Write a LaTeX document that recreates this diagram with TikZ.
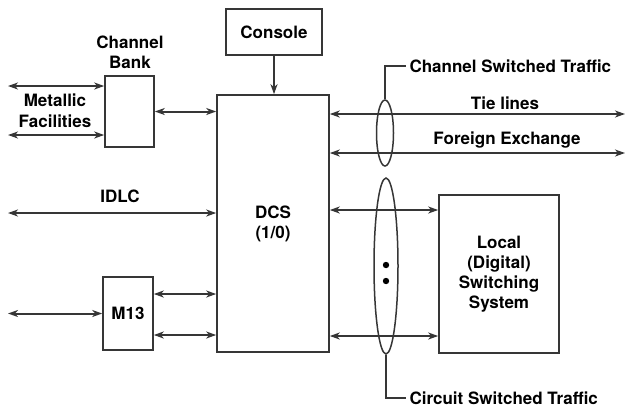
\documentclass[tikz,border=0pt]{standalone}
\usepackage{fontspec}
\setmainfont{TeX Gyre Heros}
\usetikzlibrary{positioning,arrows.meta,shapes.geometric}
\definecolor{linegray}{HTML}{363636}

\begin{document}
\begin{tikzpicture}[x=1pt,y=-1pt,>={Stealth[length=10pt,width=7pt,inset=3pt]},
  box/.style={draw=linegray,line width=1.6pt,inner sep=0pt,font=\bfseries\fontsize{17}{20}\selectfont,align=center},
  link/.style={<->,draw=linegray,line width=2pt},
  lbl/.style={font=\bfseries\fontsize{17}{20}\selectfont,align=center},
  bundle/.style={ellipse,draw=linegray,line width=1.5pt,inner sep=0pt}]
\useasboundingbox (0,0) rectangle (626,410);
% blocks
\node[box,minimum width=112pt,minimum height=257pt] (dcs) at (273,223.5) {DCS\\(1/0)};
\node[box,minimum width=96pt,minimum height=46pt] (con) at (274,32) {Console};
\node[box,minimum width=49pt,minimum height=71pt] (cb) at (129.5,111.5) {};
\node[box,minimum width=50pt,minimum height=73pt] (m13) at (128,313.5) {M13};
\node[box,minimum width=120pt,minimum height=158pt] (loc) at (499,274) {Local\\(Digital)\\Switching\\System};
% labels
\node[lbl] (cblabel) at (130,52) {Channel\\Bank};
\node[lbl] (mflabel) at (55,111) {Metallic\\[1pt]Facilities};
\node[lbl] (idlc) at (120,196) {IDLC};
\node[lbl] (tie) at (505,103) {Tie lines};
\node[lbl] (fx) at (507,140) {Foreign Exchange};
\node[lbl,anchor=west] (cstlabel) at (406,66) {Channel Switched Traffic};
\node[lbl,anchor=west] (cctlabel) at (406,398) {Circuit Switched Traffic};
% free ends
\coordinate (mf1) at (8,86);
\coordinate (mf2) at (8,135);
\coordinate (idl) at (8,213);
\coordinate (m13l) at (8,313.5);
\coordinate (tl) at (625,114);
\coordinate (fe) at (625,153);
% connectors
\draw[->,draw=linegray,line width=2pt] (con.south) -- (con.south |- dcs.north);
\draw[link] (mf1) -- (mf1 -| cb.west);
\draw[link] (mf2) -- (mf2 -| cb.west);
\draw[link] (cb.east) -- (cb.east -| dcs.west);
\draw[link] (idl) -- (idl -| dcs.west);
\draw[link] (m13l) -- (m13.west);
\draw[link] ([yshift=19.5pt]m13.east) -- ([yshift=19.5pt]m13.east -| dcs.west);
\draw[link] ([yshift=-21.5pt]m13.east) -- ([yshift=-21.5pt]m13.east -| dcs.west);
\draw[link] (tl -| dcs.east) -- (tl);
\draw[link] (fe -| dcs.east) -- (fe);
\draw[link] ([yshift=64pt]loc.west -| dcs.east) -- ([yshift=64pt]loc.west);
\draw[link] ([yshift=-62pt]loc.west -| dcs.east) -- ([yshift=-62pt]loc.west);
% traffic bundles
\node[bundle,minimum width=17pt,minimum height=66pt] (cst) at (385,133) {};
\node[bundle,minimum width=24pt,minimum height=176pt] (cct) at (386,266) {};
\fill[black] (386,265) circle (3.2pt) (386,281) circle (3.2pt);
\draw[draw=linegray,line width=1.3pt] (cst.north) |- (cstlabel.west);
\draw[draw=linegray,line width=1.3pt] (cct.south) |- (cctlabel.west);
\end{tikzpicture}
\end{document}
